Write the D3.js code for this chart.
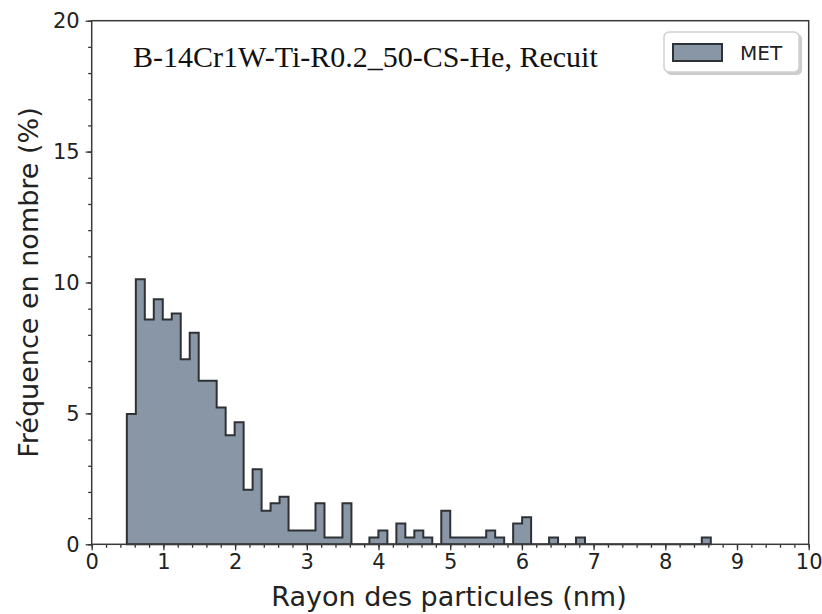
<!DOCTYPE html>
<html>
<head>
<meta charset="utf-8">
<script src="https://cdn.jsdelivr.net/npm/d3@7"></script>
<style>
  body { margin: 0; background: #fff; }
  svg { display: block; }
</style>
</head>
<body>
<script>
const width = 822, height = 614;

// histogram: 65 bins starting at 0.49 nm, width ~0.1253 nm
const binStart = 0.49, binWidth = 0.1253;
const freq = [
  4.98, 10.12, 8.59, 9.36, 8.59, 8.82, 7.07, 8.08, 6.25, 6.25,
  5.23, 4.17, 4.66, 2.08, 2.87, 1.28, 1.57, 1.82, 0.53, 0.53,
  0.53, 1.57, 0.26, 0.26, 1.57, 0, 0, 0.26, 0.53, 0,
  0.79, 0.26, 0.53, 0.26, 0, 1.28, 0.26, 0.26, 0.26, 0.26,
  0.53, 0.26, 0, 0.79, 1.03, 0, 0, 0.26, 0, 0,
  0.26, 0, 0, 0, 0, 0, 0, 0, 0, 0,
  0, 0, 0, 0, 0.26
];
const xTicks = [0, 1, 2, 3, 4, 5, 6, 7, 8, 9, 10];
const yTicks = [0, 5, 10, 15, 20];
const title = "B-14Cr1W-Ti-R0.2_50-CS-He, Recuit";
const legendLabel = "MET";

const margin = {left: 91.7, right: 822 - 808.7, top: 20.7, bottom: 614 - 544.3};

const svg = d3.select("body").append("svg")
  .attr("width", width)
  .attr("height", height);

const x = d3.scaleLinear().domain([0, 10]).range([margin.left, width - margin.right]);
const y = d3.scaleLinear().domain([0, 20]).range([height - margin.bottom, margin.top]);

// step outline like matplotlib stepfilled
const pts = [[binStart, 0]];
freq.forEach(function(v, i) {
  const x0 = binStart + i * binWidth;
  pts.push([x0, v]);
  pts.push([x0 + binWidth, v]);
});
pts.push([binStart + freq.length * binWidth, 0]);

const line = d3.line().x(d => x(d[0])).y(d => y(d[1]));

svg.append("path")
  .attr("d", line(pts) + "Z")
  .attr("fill", "#8896a5")
  .attr("stroke", "#2e3236")
  .attr("stroke-width", 2)
  .attr("stroke-linejoin", "miter");

// axes
const tickFont = "DejaVu Sans, sans-serif";

const xAxis = svg.append("g")
  .attr("transform", `translate(0,${y(0)})`)
  .call(d3.axisBottom(x).tickValues(xTicks).tickSize(6).tickPadding(4).tickFormat(d3.format("d")));
const xMinor = svg.append("g")
  .attr("transform", `translate(0,${y(0)})`)
  .call(d3.axisBottom(x).tickValues(d3.range(0, 10.01, 0.2)).tickSize(3.5).tickFormat(""));

const yAxis = svg.append("g")
  .attr("transform", `translate(${x(0)},0)`)
  .call(d3.axisLeft(y).tickValues(yTicks).tickSize(6).tickPadding(6).tickFormat(d3.format("d")));
const yMinor = svg.append("g")
  .attr("transform", `translate(${x(0)},0)`)
  .call(d3.axisLeft(y).tickValues(d3.range(0, 20.01, 1)).tickSize(3.5).tickFormat(""));

[xAxis, xMinor, yAxis, yMinor].forEach(function(g) {
  g.select(".domain").remove();
  g.selectAll("line").attr("stroke", "#333").attr("stroke-width", 1.3);
  g.selectAll("text")
    .attr("fill", "#222")
    .style("font-family", tickFont)
    .style("font-size", "21px");
});

// frame
svg.append("rect")
  .attr("x", x(0)).attr("y", y(20))
  .attr("width", x(10) - x(0)).attr("height", y(0) - y(20))
  .attr("fill", "none")
  .attr("stroke", "#3a3a3a")
  .attr("stroke-width", 1.5);

// labels
svg.append("text")
  .attr("x", 449)
  .attr("y", 606)
  .attr("text-anchor", "middle")
  .style("font-family", tickFont)
  .style("font-size", "27px")
  .attr("fill", "#222")
  .text("Rayon des particules (nm)");

svg.append("text")
  .attr("transform", `translate(38,${(y(0) + y(20)) / 2}) rotate(-90)`)
  .attr("text-anchor", "middle")
  .style("font-family", tickFont)
  .style("font-size", "27px")
  .attr("fill", "#222")
  .text("Fréquence en nombre (%)");

svg.append("text")
  .attr("x", 133)
  .attr("y", 67)
  .style("font-family", "Liberation Serif, Times New Roman, serif")
  .style("font-size", "30px")
  .attr("fill", "#111")
  .text(title);

// legend
const lg = svg.append("g").attr("transform", "translate(664,32)");
lg.append("rect")
  .attr("x", 2).attr("y", 2).attr("width", 136).attr("height", 41)
  .attr("rx", 5).attr("fill", "#ccc");
lg.append("rect")
  .attr("width", 135).attr("height", 40)
  .attr("rx", 5)
  .attr("fill", "#fff")
  .attr("stroke", "#d0d0d0")
  .attr("stroke-width", 1.5);
lg.append("rect")
  .attr("x", 9).attr("y", 12).attr("width", 49).attr("height", 17)
  .attr("fill", "#8896a5")
  .attr("stroke", "#2e3236")
  .attr("stroke-width", 2);
lg.append("text")
  .attr("x", 76).attr("y", 28)
  .style("font-family", tickFont)
  .style("font-size", "20px")
  .attr("fill", "#222")
  .text(legendLabel);
</script>
</body>
</html>
